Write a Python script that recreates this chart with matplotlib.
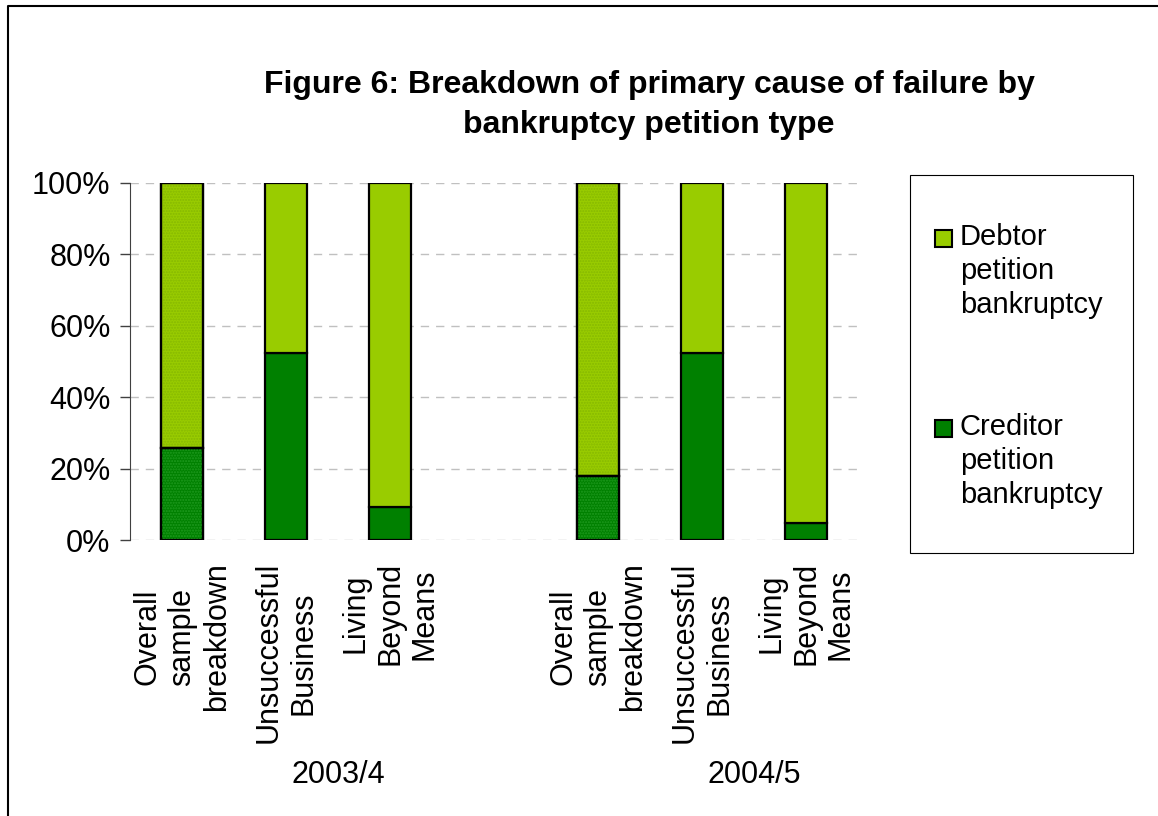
import matplotlib.pyplot as plt
from matplotlib.patches import Rectangle
from matplotlib.lines import Line2D
from matplotlib.transforms import blended_transform_factory

plt.rcParams['font.family'] = ['Liberation Sans', 'DejaVu Sans']

# causes of failure, two survey years
causes = ["Overall\nsample\nbreakdown", "Unsuccessful\nBusiness", "Living\nBeyond\nMeans"]
years = ["2003/4", "2004/5"]
positions = [0, 1, 2, 4, 5, 6]
year_centres = [1.5, 5.5]

creditor = [0.257, 0.525, 0.092, 0.178, 0.525, 0.049]
debtor = [0.743, 0.475, 0.908, 0.822, 0.475, 0.951]
overall = [True, False, False, True, False, False]

series_names = ["Debtor\npetition\nbankruptcy", "Creditor\npetition\nbankruptcy"]
series_colors = ["#99cc00", "#008000"]
dot_colors = ["#86b800", "#1f9a1f"]

W, H = 1158, 816
fig = plt.figure(figsize=(W / 100, H / 100), dpi=100)
ax = fig.add_axes([130 / W, 1 - 540 / H, 728 / W, 357 / H])

labels = causes * len(years)
width = 0.4
for x, c, d, ov in zip(positions, creditor, debtor, overall):
    for bottom, h, i in [(0, c, 1), (c, d, 0)]:
        ax.bar(x, h, width, bottom=bottom, color=series_colors[i],
               edgecolor='black', linewidth=1.6, zorder=3)
        if ov:
            # fine dotted fill on the overall bars
            ax.bar(x, h, width, bottom=bottom, color='none',
                   edgecolor=dot_colors[i], hatch='......', linewidth=0, zorder=3.5)
            ax.bar(x, h, width, bottom=bottom, color='none',
                   edgecolor='black', linewidth=1.6, zorder=4)

ax.set_xlim(-0.5, 6.5)
ax.set_ylim(0, 1)
ax.set_yticks([0, 0.2, 0.4, 0.6, 0.8, 1.0])
ax.set_yticklabels(['0%', '20%', '40%', '60%', '80%', '100%'])
ax.yaxis.grid(True, color='#c0c0c0', linestyle=(0, (6, 5)), linewidth=1, zorder=0)
ax.tick_params(axis='y', labelsize=22, length=7, width=1, color='#404040', pad=7)

ax.set_xticks(positions)
ax.set_xticklabels(labels, rotation=90, fontsize=22, va='top', ha='center')
for lbl in ax.get_xticklabels():
    lbl.set_multialignment('center')
ax.tick_params(axis='x', length=0, pad=16)

for s in ['top', 'right', 'bottom']:
    ax.spines[s].set_visible(False)
ax.spines['left'].set_color('#404040')

tr = blended_transform_factory(ax.transData, fig.transFigure)
for xc, yr in zip(year_centres, years):
    ax.text(xc, 1 - 775 / H, yr, transform=tr, ha='center', va='center', fontsize=22)

fig.text(649 / W, 1 - 105 / H,
         "Figure 6: Breakdown of primary cause of failure by\nbankruptcy petition type",
         ha='center', va='center', fontsize=23, fontweight='bold', linespacing=1.4)

# legend panel
fig.patches.append(Rectangle((910 / W, 1 - 553 / H), 223 / W, 378 / H,
                             transform=fig.transFigure, facecolor='white',
                             edgecolor='black', linewidth=0.8))
for name, col, ytop in zip(series_names, series_colors, [223, 413]):
    fig.patches.append(Rectangle((935 / W, 1 - (ytop + 24) / H), 17 / W, 17 / H,
                                 transform=fig.transFigure, facecolor=col,
                                 edgecolor='black', linewidth=1.5))
    fig.text(960 / W, 1 - ytop / H, name, ha='left', va='top', fontsize=21,
             linespacing=1.27)

# outer frame along the top and left edges
fig.lines.append(Line2D([8 / W, 8 / W, 1.0], [0.0, 1 - 6 / H, 1 - 6 / H],
                        transform=fig.transFigure, color='black', linewidth=1.5))

fig.savefig('out.png', dpi=100, facecolor='white')
